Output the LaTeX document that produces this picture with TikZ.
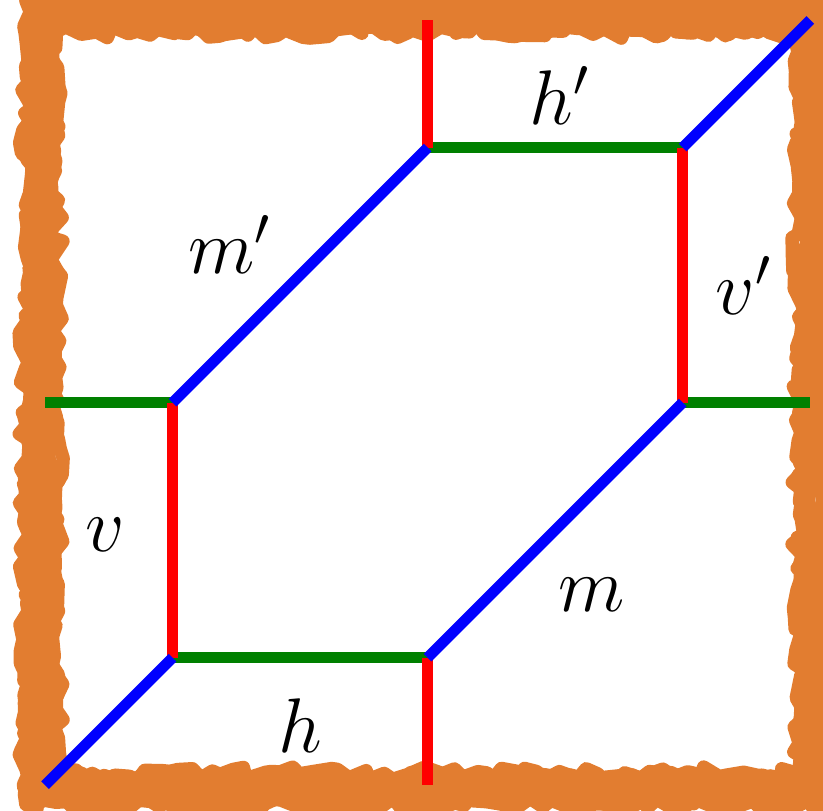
\documentclass[tikz,border=0pt]{standalone}
\usetikzlibrary{decorations.pathmorphing}
\definecolor{frameorange}{RGB}{226,125,48}
\definecolor{edgegreen}{RGB}{0,128,0}

\begin{document}
\begin{tikzpicture}[
	edge/.style={line width=2.4pt},
	hedge/.style={edge, edgegreen},
	vedge/.style={edge, red},
	dedge/.style={edge, blue},
	lbl/.style={font=\LARGE},
	rough/.style={frameorange, line width=3pt, line join=round, decorate,
		decoration={random steps, segment length=2.5pt, amplitude=1.5pt}}
	]
	\pgfmathsetseed{7}
	\useasboundingbox (-0.353,-0.196) rectangle (6.10,6.157);
	% Frame:
	\foreach \d in {-0.15,-0.12,...,0.1} {
		\draw[rough] (\d,\d) rectangle (6-\d,6-\d);
	}
	% Corners and ends:
	\coordinate (bl) at (0,0);
	\coordinate (q1) at (1,1);
	\coordinate (q2) at (1,3);
	\coordinate (wl) at (0,3);
	\coordinate (q3) at (3,5);
	\coordinate (nt) at (3,6);
	\coordinate (q4) at (5,5);
	\coordinate (tr) at (6,6);
	\coordinate (q5) at (5,3);
	\coordinate (er) at (6,3);
	\coordinate (q6) at (3,1);
	\coordinate (sb) at (3,0);
	% Edges:
	\draw[hedge] (wl) -- (q2);
	\draw[hedge] (q3) -- (q4);
	\draw[hedge] (q5) -- (er);
	\draw[hedge] (q1) -- (q6);
	\draw[vedge] (q1) -- (q2);
	\draw[vedge] (q3) -- (nt);
	\draw[vedge] (q4) -- (q5);
	\draw[vedge] (q6) -- (sb);
	\draw[dedge] (bl) -- (q1);
	\draw[dedge] (q2) -- (q3);
	\draw[dedge] (q4) -- (tr);
	\draw[dedge] (q5) -- (q6);
	% Labels:
	\node[lbl] (lh) at (2,0.47) {$h$};
	\node[lbl] (lv) at (0.47,1.96) {$v$};
	\node[lbl] (lm) at (4.29,1.49) {$m$};
	\node[lbl] (lmp) at (1.45,4.24) {$m'$};
	\node[lbl] (lhp) at (4.04,5.41) {$h'$};
	\node[lbl] (lvp) at (5.48,3.92) {$v'$};
\end{tikzpicture}
\end{document}
